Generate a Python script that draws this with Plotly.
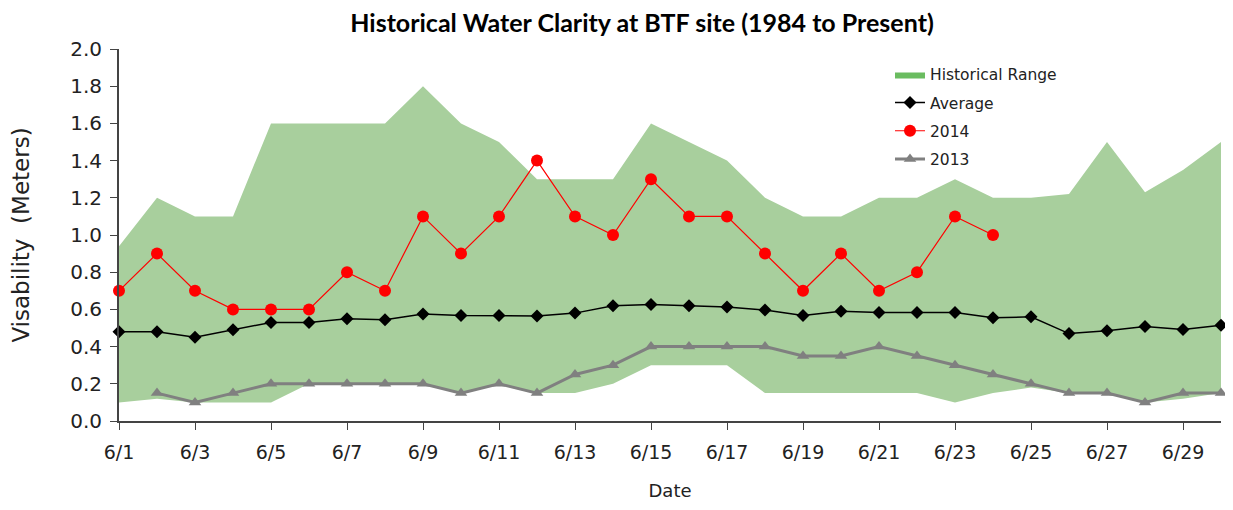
import plotly.graph_objects as go

dates = ["6/1", "6/2", "6/3", "6/4", "6/5", "6/6", "6/7", "6/8", "6/9", "6/10",
         "6/11", "6/12", "6/13", "6/14", "6/15", "6/16", "6/17", "6/18", "6/19", "6/20",
         "6/21", "6/22", "6/23", "6/24", "6/25", "6/26", "6/27", "6/28", "6/29", "6/30"]

range_high = [0.94, 1.2, 1.1, 1.1, 1.6, 1.6, 1.6, 1.6, 1.8, 1.6,
              1.5, 1.3, 1.3, 1.3, 1.6, 1.5, 1.4, 1.2, 1.1, 1.1,
              1.2, 1.2, 1.3, 1.2, 1.2, 1.22, 1.5, 1.23, 1.35, 1.5]
range_low = [0.1, 0.12, 0.1, 0.1, 0.1, 0.2, 0.2, 0.2, 0.2, 0.15,
             0.2, 0.15, 0.15, 0.2, 0.3, 0.3, 0.3, 0.15, 0.15, 0.15,
             0.15, 0.15, 0.1, 0.15, 0.18, 0.15, 0.15, 0.1, 0.12, 0.15]
average = [0.48, 0.48, 0.45, 0.49, 0.53, 0.53, 0.55, 0.545, 0.575, 0.567,
           0.567, 0.565, 0.58, 0.62, 0.627, 0.62, 0.613, 0.597, 0.567, 0.59,
           0.583, 0.583, 0.583, 0.555, 0.56, 0.47, 0.485, 0.508, 0.492, 0.515]
y2014 = [0.7, 0.9, 0.7, 0.6, 0.6, 0.6, 0.8, 0.7, 1.1, 0.9,
         1.1, 1.4, 1.1, 1.0, 1.3, 1.1, 1.1, 0.9, 0.7, 0.9,
         0.7, 0.8, 1.1, 1.0]
y2013 = [None, 0.15, 0.1, 0.15, 0.2, 0.2, 0.2, 0.2, 0.2, 0.15,
         0.2, 0.15, 0.25, 0.3, 0.4, 0.4, 0.4, 0.4, 0.35, 0.35,
         0.4, 0.35, 0.3, 0.25, 0.2, 0.15, 0.15, 0.1, 0.15, 0.15]
tick_labels = ["6/1", "6/3", "6/5", "6/7", "6/9", "6/11", "6/13", "6/15",
               "6/17", "6/19", "6/21", "6/23", "6/25", "6/27", "6/29"]

FONT = "DejaVu Sans"
band_color = "rgb(168,207,157)"
swatch_color = "rgb(106,188,96)"
TXT = "#222222"

# The page body has an 8px margin; size the figure so it fits the window without overflow.
OFF = 8
W, H = 1233 - 2 * OFF, 510 - 2 * OFF
PL, PR, PT, PB = 119 - OFF, 1221 - OFF, 49 - OFF, 427 - OFF  # plot area in figure px

fig = go.Figure()
fig.add_trace(go.Scatter(x=dates, y=range_low, mode="lines", line=dict(width=0),
                         showlegend=False, hoverinfo="skip", legendgroup="r"))
fig.add_trace(go.Scatter(x=dates, y=range_high, mode="lines", line=dict(width=0),
                         fill="tonexty", fillcolor=band_color, name="Historical Range",
                         showlegend=False, legendgroup="r"))
# legend-only swatch (brighter green, as in the original legend)
fig.add_trace(go.Scatter(x=[None], y=[None], mode="lines", line=dict(width=0),
                         fill="toself", fillcolor=swatch_color, name="Historical Range",
                         legendgroup="r"))
fig.add_trace(go.Scatter(x=dates, y=average, mode="lines+markers", name="Average",
                         line=dict(color="black", width=1.5),
                         marker=dict(symbol="diamond", size=10, color="black"),
                         cliponaxis=False, legendgroup="a"))
fig.add_trace(go.Scatter(x=dates[:len(y2014)], y=y2014, mode="lines+markers", name="2014",
                         line=dict(color="red", width=1.2),
                         marker=dict(symbol="circle", size=12, color="red"),
                         cliponaxis=False, legendgroup="b"))
fig.add_trace(go.Scatter(x=dates, y=y2013, mode="lines+markers", name="2013",
                         line=dict(color="rgb(128,128,128)", width=3),
                         marker=dict(symbol="triangle-up", size=11, color="rgb(128,128,128)"),
                         cliponaxis=False, legendgroup="c"))

fig.update_layout(
    width=W, height=H,
    margin=dict(l=PL, r=W - PR, t=PT, b=H - PB),
    paper_bgcolor="white", plot_bgcolor="white",
    font=dict(family=FONT, color=TXT),
    title=dict(text="<b>Historical Water Clarity at BTF site (1984 to Present)</b>",
               x=(642 - OFF) / W, xanchor="center", yref="container", y=1, yanchor="top",
               pad=dict(t=6),
               font=dict(family="Lato", size=25, color="black")),
    xaxis=dict(type="category", range=[0, 29], tickmode="array",
               tickvals=tick_labels, ticktext=tick_labels,
               ticks="outside", ticklen=7, tickcolor="#444444",
               showline=True, linecolor="#444444", linewidth=2,
               showgrid=False, zeroline=False, ticklabelstandoff=6,
               tickfont=dict(family=FONT, size=19, color=TXT),
               title=dict(text="Date", font=dict(family=FONT, size=18, color=TXT),
                          standoff=23)),
    yaxis=dict(range=[0, 2.0], dtick=0.2, tickformat=".1f",
               ticks="outside", ticklen=7, tickcolor="#444444",
               showline=True, linecolor="#444444", linewidth=2,
               showgrid=False, zeroline=False, ticklabelstandoff=4,
               tickfont=dict(family=FONT, size=20, color=TXT),
               title=dict(text="Visability  (Meters)", font=dict(family=FONT, size=23, color=TXT),
                          standoff=37)),
    legend=dict(x=(890 - 119) / 1102, y=(427 - 58) / 378, xanchor="left", yanchor="top",
                traceorder="grouped", tracegroupgap=5,
                bgcolor="rgba(0,0,0,0)", font=dict(family=FONT, size=15.5, color=TXT)),
)

fig.write_html("out.html")
